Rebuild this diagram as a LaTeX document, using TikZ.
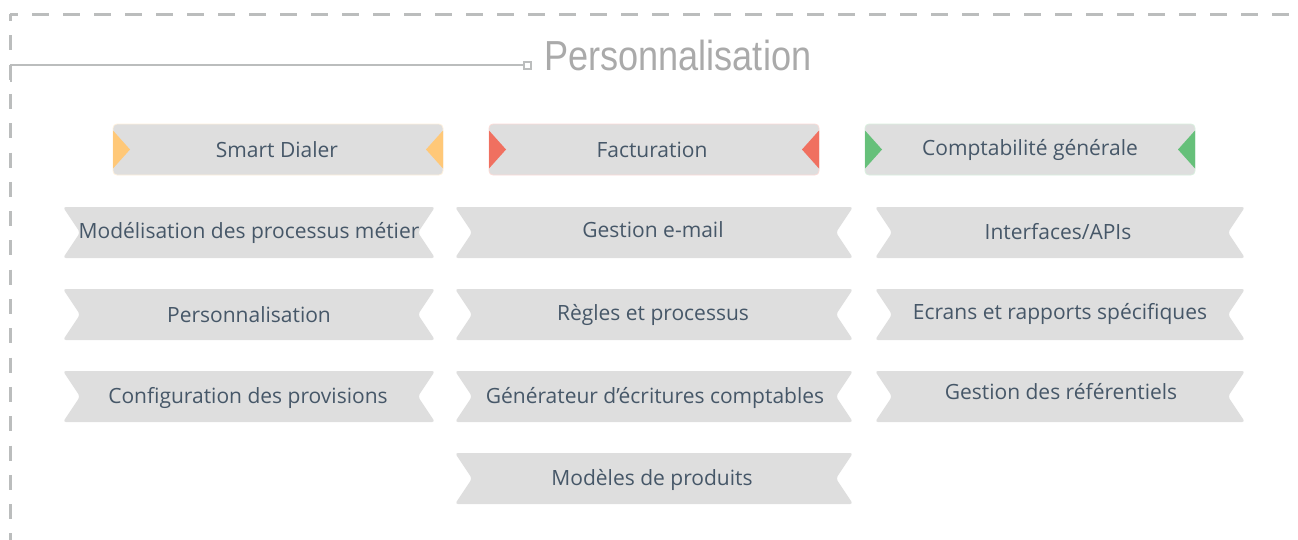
\documentclass[tikz,border=0pt]{standalone}
\usepackage{fontspec}
\setmainfont{Open Sans}
\newfontfamily\titlefont[FakeStretch=0.86]{Liberation Sans}
\definecolor{framegray}{RGB}{187,189,189}
\definecolor{ribfill}{RGB}{222,222,222}
\definecolor{labelcol}{RGB}{70,87,104}
\definecolor{titlecol}{RGB}{170,170,170}
\definecolor{cyellow}{RGB}{255,200,120}
\definecolor{cred}{RGB}{240,112,96}
\definecolor{cgreen}{RGB}{102,192,122}
\tikzset{
  lbl/.style={anchor=base, inner sep=0pt, text=labelcol, font=\fontsize{21}{25}\selectfont},
  ttl/.style={anchor=base west, inner sep=0pt, text=titlecol, font=\titlefont\fontsize{42}{48}\selectfont},
}
% ribbon: x1, x2, ytop, ybottom
\newcommand{\myribbon}[4]{%
  \path[fill=ribfill, rounded corners=3pt] (#1,#3) -- (#2,#3) -- ({#2-17},{(#3+#4)/2}) -- (#2,#4) -- (#1,#4) -- ({#1+17},{(#3+#4)/2}) -- cycle;}
% colored box: x1, x2, ytop, ybottom, colour
\newcommand{\mycbox}[5]{%
  \path[fill=ribfill, draw=#5!25, line width=0.8pt, rounded corners=4pt] (#1,#3) rectangle (#2,#4);
  \fill[#5] (#1,{(#3+#4)/2-19}) -- ({#1+17},{(#3+#4)/2}) -- (#1,{(#3+#4)/2+19}) -- cycle;
  \fill[#5] (#2,{(#3+#4)/2-19}) -- ({#2-17},{(#3+#4)/2}) -- (#2,{(#3+#4)/2+19}) -- cycle;}
\begin{document}
\begin{tikzpicture}[x=1pt,y=-1pt]
\useasboundingbox (0,0) rectangle (1298,539);
% dashed frame
\draw[framegray, line width=3pt, dash pattern=on 17pt off 14pt, dash phase=9pt] (10,14) -- (1300,14);
\draw[framegray, line width=3pt, dash pattern=on 15pt off 14.3pt, dash phase=8pt] (10,14) -- (10,541);
% title line
\coordinate (tl0) at (11,82);
\coordinate (tl1) at (11,65);
\node[draw=framegray, line width=2pt, fill=white, minimum size=7pt, inner sep=0pt] (sq) at (527,65) {};
\draw[framegray, line width=2pt] (tl0) -- (tl1) -- (sq.west);
\node[ttl] (title) at (544,70) {Personnalisation};
% top coloured boxes
\mycbox{113}{443}{124}{175}{cyellow}
\mycbox{489}{819}{124}{175}{cred}
\mycbox{865}{1195}{124}{175}{cgreen}
\node[lbl] (sd) at (277,157.5) {Smart Dialer};
\node[lbl] (fa) at (652,157.5) {Facturation};
\node[lbl] (cg) at (1030,155.5) {Comptabilité générale};
% ribbons
\foreach \yt in {207,289,371} {
  \myribbon{63}{435}{\yt}{\yt+51}
  \myribbon{455}{853}{\yt}{\yt+51}
  \myribbon{875}{1245}{\yt}{\yt+51}
}
\myribbon{455}{853}{453}{504}
\node[lbl] (mp) at (249,238.5) {Modélisation des processus métier};
\node[lbl] (ge) at (653,237.5) {Gestion e-mail};
\node[lbl] (ia) at (1058,239.5) {Interfaces/APIs};
\node[lbl] (pe) at (249,322.5) {Personnalisation};
\node[lbl] (rp) at (653,320.5) {Règles et processus};
\node[lbl] (er) at (1060,319.5) {Ecrans et rapports spécifiques};
\node[lbl] (cp) at (248,403.5) {Configuration des provisions};
\node[lbl] (gc) at (655,403.5) {Générateur d’écritures comptables};
\node[lbl] (gr) at (1061,399.5) {Gestion des référentiels};
\node[lbl] (md) at (652,485.5) {Modèles de produits};
\end{tikzpicture}
\end{document}
